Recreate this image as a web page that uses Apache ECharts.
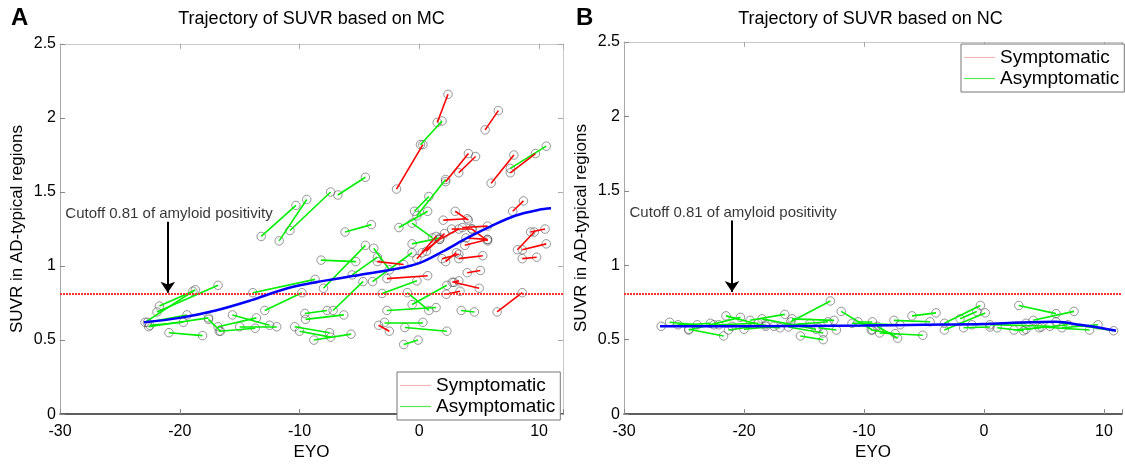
<!DOCTYPE html>
<html><head><meta charset="utf-8">
<script src="https://cdn.jsdelivr.net/npm/echarts@6/dist/echarts.min.js"></script>
<style>html,body{margin:0;padding:0;background:#fff}#c{width:1125px;height:466px}</style>
</head><body><div id="c"></div><script>
// ---- data ----
const xTicks = [-30, -20, -10, 0, 10];
const yTicks = [0, 0.5, 1, 1.5, 2, 2.5];
const titles = ['Trajectory of SUVR based on MC', 'Trajectory of SUVR based on NC'];
const panelLetters = ['A', 'B'];
const cutoff = 0.81;
const cutoffText = 'Cutoff 0.81 of amyloid positivity';
const arrowX = -21, arrowTop = 1.30, arrowTip = 0.82, labelPos = [-20.9, 1.35];

// segments [x1, y1, x2, y2]
const symA = [
  [1.5,1.97,2.4,2.16],[-1.9,1.52,0.3,1.82],[5.5,1.92,6.6,2.05],[2.2,1.57,4.1,1.76],
  [3.3,1.63,4.7,1.74],[6.0,1.56,7.9,1.75],[7.6,1.63,9.7,1.76],[7.8,1.37,8.7,1.44],
  [2.0,1.31,4.0,1.32],[3.0,1.37,4.1,1.31],[2.7,1.25,4.4,1.25],[3.6,1.26,5.7,1.27],
  [1.7,1.18,3.3,1.25],[3.9,1.19,5.7,1.18],[4.4,1.25,5.7,1.17],[3.8,1.14,5.7,1.18],
  [8.2,1.11,9.6,1.23],[9.3,1.23,10.5,1.25],[8.6,1.11,10.6,1.15],[8.6,1.05,9.8,1.06],
  [1.9,1.05,3.3,1.08],[2.2,1.03,3.1,1.09],[3.3,1.05,5.3,1.07],[4.0,0.955,5.1,0.97],
  [2.75,0.89,3.3,0.9],[2.9,0.89,5.0,0.85],[2.25,0.81,3.4,0.83],[6.5,0.69,8.6,0.82],
  [-3.5,1.03,-1.3,1.01],[-2.7,0.915,0.7,0.935],[-3.4,0.6,-2.5,0.56],[-0.2,1.05,1.4,1.2],
  [0.25,1.09,1.7,1.18],[0.6,1.1,2.1,1.22]
];
const asymA = [
  [0.1,1.82,1.9,1.98],[-0.2,1.34,2.2,1.585],[7.6,1.66,10.6,1.81],[-6.8,1.48,-4.5,1.6],
  [-13.2,1.2,-10.3,1.41],[-11.7,1.17,-9.4,1.45],[-10.8,1.24,-7.4,1.5],[-6.2,1.23,-4.0,1.28],
  [-8.2,1.04,-5.3,1.03],[-8.0,0.85,-4.5,1.14],[-7.2,0.70,-4.7,0.895],[-9.5,0.64,-6.3,0.67],
  [-8.8,0.50,-5.7,0.54],[-10.0,0.56,-7.4,0.52],[-3.8,1.12,-2.5,0.975],[-1.7,1.26,0.7,1.37],
  [-0.4,1.37,0.8,1.47],[-0.6,1.29,1.1,1.19],[-5.6,0.94,-3.5,1.06],[-3.9,0.895,-0.6,1.09],
  [-3.1,0.815,-0.2,0.9],[-0.6,1.15,1.7,1.19],[-1.0,0.82,0.8,0.70],[-2.7,0.70,1.4,0.72],
  [-2.9,0.62,0.3,0.62],[-1.2,0.585,2.3,0.56],[-1.3,0.47,-0.1,0.5],[-0.6,0.74,2.3,0.87],
  [3.5,0.70,4.6,0.69],[-22.9,0.62,-18.7,0.84],[-21.7,0.73,-18.9,0.83],[-21.9,0.69,-16.8,0.87],
  [-22.7,0.62,-19.4,0.67],[-22.6,0.59,-17.6,0.65],[-22.5,0.60,-19.7,0.62],[-20.9,0.55,-18.1,0.53],
  [-17.6,0.64,-16.6,0.56],[-15.6,0.67,-12.5,0.6],[-16.8,0.59,-13.6,0.65],[-16.7,0.56,-13.7,0.58],
  [-15.0,0.59,-11.9,0.59],[-13.9,0.82,-8.7,0.91],[-12.9,0.70,-9.8,0.82],[-9.55,0.68,-7.7,0.70],
  [-10.4,0.59,-7.5,0.55]
];
const symB = [];
const asymB = [
  [-26.9,0.59,-22.8,0.61],[-26.2,0.617,-23.9,0.60],[-24.6,0.57,-21.7,0.525],[-24.6,0.565,-20.3,0.65],
  [-21.5,0.66,-18.2,0.59],[-19.5,0.63,-16.6,0.67],[-22.1,0.60,-18.8,0.61],[-21.3,0.565,-18.2,0.60],
  [-12.8,0.76,-16.1,0.62],[-15.3,0.525,-13.4,0.50],[-16.3,0.585,-13.4,0.545],[-13.8,0.58,-12.3,0.565],
  [-11.9,0.69,-9.3,0.565],[-8.9,0.59,-7.2,0.51],[-8.7,0.545,-5.1,0.53],[-7.5,0.63,-4.5,0.62],
  [-6.0,0.66,-4.0,0.68],[-3.3,0.61,-0.3,0.73],[-3.3,0.565,0.1,0.68],[-2.0,0.64,-0.6,0.69],
  [-1.7,0.58,0.5,0.585],[1.1,0.58,3.3,0.56],[2.9,0.73,6.0,0.675],[4.1,0.63,7.5,0.69],
  [4.8,0.585,8.8,0.565],[6.0,0.62,10.8,0.56],[2.5,0.565,4.6,0.58],[-10.5,0.62,-9.3,0.62],
  [-9.4,0.565,-7.4,0.54],[-22.5,0.60,-17.0,0.58],[-20.0,0.57,-14.5,0.61],[-18.5,0.64,-14.0,0.57],
  [-17.5,0.59,-13.0,0.62],[-16.0,0.64,-12.5,0.63],[-25.5,0.60,-21.0,0.59],[-11.0,0.61,-7.0,0.60],
  [-1.0,0.60,3.5,0.61],[0.5,0.60,5.5,0.59],[3.5,0.57,7.0,0.60],[6.5,0.58,9.5,0.60]
];
// fitted trajectories
const fitAx = [-23,-20,-17,-14,-11,-8,-5,-2,0,2,4,6,8,10,11];
const fitAy = [0.62,0.65,0.70,0.77,0.85,0.90,0.94,0.98,1.02,1.10,1.19,1.27,1.34,1.38,1.39];
const fitBx = [-27,-20,-10,-5,0,3,6,8,10,11];
const fitBy = [0.59,0.59,0.595,0.60,0.605,0.615,0.62,0.60,0.575,0.56];

// ---- chart ----
const FONT = 'Liberation Sans, Arial, sans-serif';
const chart = echarts.init(document.getElementById('c'));
const grids = [
  {left: 60, top: 44, width: 503, height: 377},
  {left: 624, top: 42, width: 501, height: 381}
];
const xMax = [12, 11.5];
const xAxes = [], yAxes = [];
[0, 1].forEach(g => {
  xAxes.push({
    type: 'value', gridIndex: g, min: -30, max: xMax[g], interval: 10, position: 'bottom',
    name: 'EYO', nameLocation: 'middle', nameGap: 28,
    nameTextStyle: {fontSize: 17, color: '#000', fontFamily: FONT},
    axisLine: {onZero: false, lineStyle: {color: '#2a2a2a', width: 1.5}},
    axisTick: {inside: true, length: 5, lineStyle: {color: '#888'}},
    axisLabel: {fontSize: 16, color: '#000', margin: 9, fontFamily: FONT,
      formatter: v => xTicks.includes(v) ? String(v) : ''},
    splitLine: {show: false}
  });
  xAxes.push({
    type: 'value', gridIndex: g, min: -30, max: xMax[g], interval: 10, position: 'top',
    axisLine: {onZero: false, lineStyle: {color: '#c8c8c8', width: 1}},
    axisTick: {inside: true, length: 5, lineStyle: {color: '#aaa'}},
    axisLabel: {show: false}, splitLine: {show: false}
  });
  yAxes.push({
    type: 'value', gridIndex: g, min: 0, max: 2.5, interval: 0.5, position: 'left',
    name: 'SUVR in AD-typical regions', nameLocation: 'middle', nameGap: 34,
    nameTextStyle: {fontSize: 17, color: '#000', fontFamily: FONT},
    axisLine: {show: true, onZero: false, lineStyle: {color: '#a8a8a8', width: 1}},
    axisTick: {show: true, inside: true, length: 5, lineStyle: {color: '#888'}},
    axisLabel: {fontSize: 16, color: '#000', margin: 4, fontFamily: FONT,
      formatter: v => yTicks.includes(v) ? String(v) : ''},
    splitLine: {show: false}
  });
  yAxes.push({
    type: 'value', gridIndex: g, min: 0, max: 2.5, interval: 0.5, position: 'right',
    axisLine: {show: g === 0, onZero: false, lineStyle: {color: '#c8c8c8', width: 1}},
    axisTick: {show: g === 0, inside: true, length: 5, lineStyle: {color: '#aaa'}},
    axisLabel: {show: false}, splitLine: {show: false}
  });
});

function segSeries(segs, color, g) {
  return {
    type: 'lines', coordinateSystem: 'cartesian2d', xAxisIndex: 2 * g, yAxisIndex: 2 * g,
    silent: true, z: 3,
    lineStyle: {color: color, width: 1.6, opacity: 1},
    data: segs.map(s => ({coords: [[s[0], s[1]], [s[2], s[3]]]}))
  };
}
function dotSeries(segs, g) {
  const pts = [];
  segs.forEach(s => { pts.push([s[0], s[1]]); pts.push([s[2], s[3]]); });
  return {
    type: 'scatter', xAxisIndex: 2 * g, yAxisIndex: 2 * g, silent: true, z: 2,
    symbol: 'circle', symbolSize: 8.5,
    itemStyle: {color: 'rgba(0,0,0,0)', borderColor: '#444', borderWidth: 0.7},
    data: pts
  };
}
function fitSeries(xs, ys, g) {
  return {
    type: 'line', xAxisIndex: 2 * g, yAxisIndex: 2 * g, silent: true, z: 5,
    smooth: 0.35, showSymbol: false, symbol: 'none',
    lineStyle: {color: '#0000ff', width: 2.5},
    data: xs.map((x, i) => [x, ys[i]]),
    markLine: {
      silent: true, symbol: ['none', 'none'], animation: false,
      label: {show: false},
      lineStyle: {color: '#ff3030', type: [2, 1], width: 2},
      data: [{yAxis: cutoff}]
    }
  };
}
function annotSeries(g) {
  return {
    type: 'scatter', xAxisIndex: 2 * g, yAxisIndex: 2 * g, silent: true, z: 6,
    symbolSize: 0, data: [labelPos],
    label: {show: true, position: 'inside', formatter: cutoffText,
      fontSize: 15, color: '#000', fontFamily: FONT}
  };
}
function arrowSeries(g) {
  return {
    type: 'lines', coordinateSystem: 'cartesian2d', xAxisIndex: 2 * g, yAxisIndex: 2 * g,
    silent: true, z: 6, symbol: ['none', 'arrow'], symbolSize: 11,
    lineStyle: {color: '#000', width: 2, opacity: 1},
    itemStyle: {color: '#000'},
    data: [{coords: [[arrowX, arrowTop], [arrowX, arrowTip]]}]
  };
}

const series = [
  dotSeries(symA.concat(asymA), 0),
  segSeries(asymA, '#00ee00', 0),
  segSeries(symA, '#ff0000', 0),
  fitSeries(fitAx, fitAy, 0),
  annotSeries(0),
  arrowSeries(0),
  dotSeries(symB.concat(asymB), 1),
  segSeries(asymB, '#00ee00', 1),
  segSeries(symB, '#ff0000', 1),
  fitSeries(fitBx, fitBy, 1),
  annotSeries(1),
  arrowSeries(1),
  {name: 'Symptomatic', type: 'line', xAxisIndex: 0, yAxisIndex: 0, data: [],
   itemStyle: {color: '#f5b5b5'}, lineStyle: {color: '#f5b5b5'}},
  {name: 'Asymptomatic', type: 'line', xAxisIndex: 0, yAxisIndex: 0, data: [],
   itemStyle: {color: '#55e855'}, lineStyle: {color: '#55e855'}}
];

function legendAt(left, top) {
  return {
    left: left, top: top, orient: 'vertical', selectedMode: false,
    data: ['Symptomatic', 'Asymptomatic'], icon: 'rect', itemWidth: 31, itemHeight: 1.2,
    itemGap: 2, padding: [4, 5, 4, 3], borderColor: '#777', borderWidth: 1,
    backgroundColor: '#fff', textStyle: {fontSize: 19, color: '#000', fontFamily: FONT}
  };
}

const graphic = [];
[0, 1].forEach(g => {
  graphic.push({type: 'text', x: grids[g].left + grids[g].width / 2 - (g ? 4 : 0), y: 19,
    style: {text: titles[g], font: '18px ' + FONT, fill: '#000', align: 'center', verticalAlign: 'middle',
      textAlign: 'center', textVerticalAlign: 'middle'}});
  graphic.push({type: 'text', x: g ? 576 : 11, y: 18,
    style: {text: panelLetters[g], font: 'bold 24px ' + FONT, fill: '#000', align: 'left', verticalAlign: 'middle',
      textAlign: 'left', textVerticalAlign: 'middle'}});
});

chart.setOption({
  animation: false,
  textStyle: {fontFamily: FONT},
  grid: grids,
  xAxis: xAxes,
  yAxis: yAxes,
  legend: [legendAt(397, 372), legendAt(961, 44)],
  graphic: graphic,
  series: series
});
</script></body></html>
